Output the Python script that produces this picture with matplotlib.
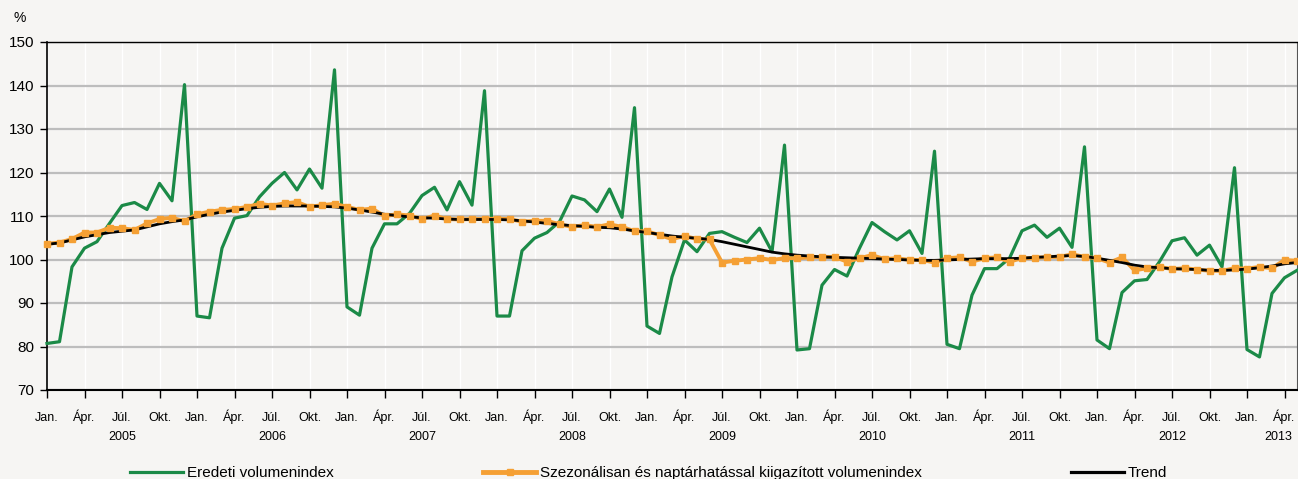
import numpy as np
import matplotlib
matplotlib.use("Agg")
import matplotlib.pyplot as plt
from matplotlib.lines import Line2D

plt.rcParams['font.family'] = ['Liberation Sans', 'DejaVu Sans']

# monthly data, Jan 2005 - May 2013
eredeti = [80.7, 81.1, 98.3, 102.6, 104.1, 108.3, 112.4, 113.1, 111.5, 117.5, 113.5, 140.2,
           87.0, 86.6, 102.6, 109.5, 110.1, 114.4, 117.5, 120.0, 116.0, 120.8, 116.4, 143.6,
           89.1, 87.2, 102.6, 108.2, 108.2, 110.6, 114.7, 116.6, 111.4, 117.9, 112.5, 138.8,
           87.0, 87.0, 102.0, 104.9, 106.2, 108.7, 114.6, 113.7, 111.0, 116.2, 109.7, 134.9,
           84.7, 83.0, 96.0, 104.5, 101.8, 106.0, 106.4, 105.1, 103.9, 107.2, 101.8, 126.3,
           79.2, 79.5, 94.1, 97.7, 96.2, 102.6, 108.5, 106.4, 104.5, 106.6, 101.4, 124.9,
           80.5, 79.5, 91.8, 97.9, 97.9, 100.3, 106.6, 107.9, 105.1, 107.2, 102.8, 125.9,
           81.5, 79.5, 92.4, 95.1, 95.4, 99.5, 104.3, 105.0, 101.0, 103.3, 98.3, 121.1,
           79.3, 77.6, 92.2, 95.8, 97.5]

szezonalis = [103.6, 103.9, 104.7, 106.2, 106.2, 107.3, 107.2, 106.8, 108.3, 109.3, 109.6, 108.8,
              110.4, 111.0, 111.4, 111.6, 112.1, 112.8, 112.4, 112.9, 113.2, 112.1, 112.5, 112.8,
              112.1, 111.4, 111.7, 110.0, 110.4, 110.1, 109.3, 110.1, 109.3, 109.2, 109.3, 109.3,
              109.4, 109.3, 108.7, 108.9, 108.9, 108.1, 107.5, 107.9, 107.5, 108.1, 107.5, 106.5,
              106.5, 105.6, 104.7, 105.4, 104.7, 104.6, 99.3, 99.7, 100.0, 100.3, 99.9, 100.3,
              100.3, 100.5, 100.6, 100.6, 99.5, 100.3, 101.0, 100.1, 100.3, 99.9, 99.9, 99.3,
              100.3, 100.5, 99.5, 100.3, 100.5, 99.5, 100.3, 100.3, 100.6, 100.6, 101.2, 100.6,
              100.3, 99.3, 100.5, 97.5, 98.0, 98.3, 97.8, 98.0, 97.7, 97.4, 97.4, 98.0,
              97.9, 98.3, 98.0, 99.9, 99.7]

trend = [103.5, 103.8, 104.5, 105.2, 105.7, 106.2, 106.5, 106.8, 107.5, 108.2, 108.7, 109.1,
         109.8, 110.4, 110.9, 111.3, 111.7, 112.0, 112.2, 112.3, 112.3, 112.3, 112.2, 112.1,
         111.8, 111.4, 110.9, 110.4, 110.1, 109.8, 109.6, 109.5, 109.3, 109.2, 109.2, 109.2,
         109.2, 109.1, 108.9, 108.6, 108.3, 108.0, 107.8, 107.6, 107.4, 107.3, 107.0, 106.6,
         106.2, 105.8, 105.4, 105.1, 104.9, 104.6, 104.1, 103.5, 102.9, 102.3, 101.7, 101.3,
         101.0, 100.8, 100.6, 100.5, 100.4, 100.3, 100.2, 100.1, 100.0, 99.9, 99.8, 99.8,
         99.9, 100.0, 100.1, 100.2, 100.2, 100.2, 100.3, 100.5, 100.6, 100.8, 100.9, 100.7,
         100.3, 99.8, 99.3, 98.7, 98.3, 98.1, 97.9, 97.8, 97.7, 97.5, 97.5, 97.6,
         97.8, 98.1, 98.5, 99.0, 99.3]

honap_cimkek = ["Jan.", "Ápr.", "Júl.", "Okt."]
evek = [2005, 2006, 2007, 2008, 2009, 2010, 2011, 2012, 2013]

green = '#1b8a47'
orange = '#f5a034'
bg = '#f6f5f3'

n = len(eredeti)
x = np.arange(n)

fig = plt.figure(figsize=(12.98, 4.79), dpi=100, facecolor=bg)
ax = fig.add_axes([47/1298, 1-390/479, 1250/1298, 348/479])
ax.set_facecolor(bg)

ax.plot(x, eredeti, color=green, lw=2.3, zorder=3, clip_on=False)
ax.plot(x, szezonalis, color=orange, lw=2.8, zorder=4, clip_on=False)
ax.plot(x, trend, color='black', lw=2.0, zorder=5, clip_on=False)
ax.plot(x, szezonalis, ls='none', marker='s', ms=4.8, color=orange, zorder=6, clip_on=False)

ax.set_xlim(0, n-1)
ax.set_ylim(70, 150)
ax.set_yticks(np.arange(70, 151, 10))
ax.tick_params(axis='y', labelsize=11, length=5, width=1, pad=4)
ax.yaxis.grid(True, color='#bdbdbd', lw=1.6, zorder=1)

xt = np.arange(0, n, 3)
ax.set_xticks(xt)
ax.set_xticklabels([honap_cimkek[(i // 3) % 4] for i in xt], fontsize=9, va='baseline')
ax.tick_params(axis='x', length=6, width=1, pad=16)
ax.xaxis.grid(True, color='white', lw=1.0, zorder=1)

for k, ev in enumerate(evek):
    lo = 12 * k
    hi = min(12 * k + 11, n - 1)
    ax.annotate(str(ev), xy=((lo + hi) / 2 + 0.5, 0), xycoords=('data', 'axes fraction'),
                xytext=(0, -34), textcoords='offset points', ha='center', va='center',
                fontsize=9)

for s in ['left', 'bottom', 'top']:
    ax.spines[s].set_color('black')
ax.spines['bottom'].set_linewidth(1.5)
ax.spines['left'].set_linewidth(1.2)
ax.spines['top'].set_linewidth(1.0)
ax.spines['right'].set_color('#555555')

fig.text(20/1298, 1-18/479, '%', fontsize=10, ha='center', va='center')

h1 = Line2D([], [], color=green, lw=2.3)
h2 = Line2D([], [], color=orange, lw=3.5, marker='s', ms=5)
h3 = Line2D([], [], color='black', lw=2.3)
for h, lab, xpos in [(h1, 'Eredeti volumenindex', 130),
                     (h2, 'Szezonálisan és naptárhatással kiigazított volumenindex', 483),
                     (h3, 'Trend', 1071)]:
    fig.legend([h], [lab], loc='center left', bbox_to_anchor=(xpos/1298, 1-473/479),
               frameon=False, fontsize=11, handlelength=3.5, handletextpad=0.2,
               borderaxespad=0, borderpad=0)

fig.savefig('out.png', dpi=100, facecolor=bg)
